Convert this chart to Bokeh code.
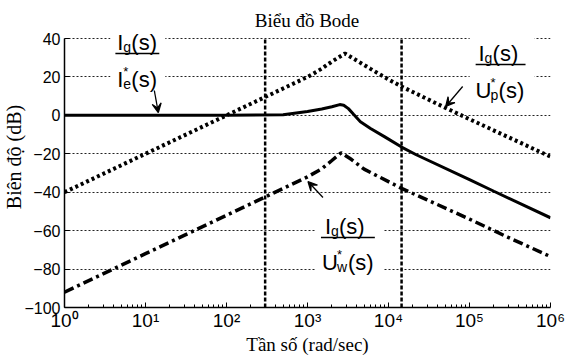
from bokeh.plotting import figure
from bokeh.models import Range1d, FixedTicker, Label, Arrow, VeeHead, BoxAnnotation
from bokeh.embed import file_html
from bokeh.resources import INLINE

# ---------------- data ----------------
freq_Ie = [1, 10, 100, 500, 1000, 1500, 2000, 2500, 2800, 3200, 3700, 4500, 6000, 9000,
           14500, 22000, 100000, 200000, 1000000]
mag_Ie = [0, 0, 0, 0.3, 2.0, 3.3, 4.5, 5.6, 5.3, 3.5, 0.6, -3.3, -6.8, -11.2,
          -16.5, -20.5, -33.5, -39.5, -53.3]

freq_Up = [1, 10, 100, 1000, 1500, 2000, 2900, 4000, 6000, 10000, 14500,
           50000, 100000, 1000000]
mag_Up = [-40, -20, 0, 20, 24.3, 28, 32.2, 28.7, 24.2, 18.7, 15,
          4, -2, -21.5]

freq_Uw = [1, 10, 100, 300, 1000, 1500, 2000, 2600, 3500, 5000, 10000,
           14500, 30000, 100000, 300000, 1000000]
mag_Uw = [-92, -72, -52, -42.5, -32, -27.8, -23.5, -19.5, -23, -28, -34.5,
          -38, -44, -54, -63.5, -73.5]

vline_freqs = [300, 14500]

xtick_values = [1, 10, 100, 1000, 10000, 100000, 1000000]
xtick_labels = ["10\u2070", "10\u00b9", "10\u00b2", "10\u00b3", "10\u2074", "10\u2075", "10\u2076"]
ytick_values = [-100, -80, -60, -40, -20, 0, 20, 40]
y_min, y_max = -100, 40

title_text = "Biểu đồ Bode"
xlabel_text = "Tần số (rad/sec)"
ylabel_text = "Biên độ (dB)"

# ---------------- figure ----------------
PX_DB = 269.0 / 140.0          # pixels per dB
HEAD = 32                      # free room above the 40 dB line (title + labels)
p = figure(frame_width=486, frame_height=269 + HEAD, x_axis_type="log",
           x_range=Range1d(1, 1e6), y_range=Range1d(y_min, y_max + HEAD / PX_DB),
           output_backend="svg", toolbar_location=None, title=None,
           min_border_left=58, min_border_right=15,
           min_border_top=6, min_border_bottom=46)
p.outline_line_color = None
p.background_fill_color = "white"

# axes
p.xaxis.ticker = FixedTicker(ticks=xtick_values,
                             minor_ticks=[m * d for d in xtick_values[:-1] for m in range(2, 10)])
p.xaxis.major_label_overrides = {v: l for v, l in zip(xtick_values, xtick_labels)}
p.yaxis.ticker = FixedTicker(ticks=ytick_values)
p.yaxis.bounds = (y_min, y_max)
for ax in (p.xaxis[0], p.yaxis[0]):
    ax.axis_line_color = "black"
    ax.axis_line_width = 1.5
    ax.major_tick_out = 0
    ax.major_tick_in = 5
    ax.major_tick_line_color = "black"
    ax.minor_tick_out = 0
    ax.minor_tick_in = 3
    ax.minor_tick_line_color = "black"
    ax.major_label_text_font = "Liberation Sans"
    ax.major_label_text_color = "black"
    ax.axis_label_text_font = "Liberation Serif"
    ax.axis_label_text_font_style = "normal"
    ax.axis_label_text_color = "black"
p.yaxis.minor_tick_line_color = None
p.xaxis.major_label_text_font_size = "19px"
p.yaxis.major_label_text_font_size = "16px"
p.xaxis.axis_label_text_font_size = "19px"
p.yaxis.axis_label_text_font_size = "20px"
p.xaxis.major_label_standoff = 2
p.yaxis.major_label_standoff = 4
p.xaxis.axis_label = xlabel_text
p.yaxis.axis_label = ylabel_text
p.xaxis.axis_label_standoff = 0
p.yaxis.axis_label_standoff = -4

p.xgrid.grid_line_color = None
p.ygrid.grid_line_color = "#222222"
p.ygrid.grid_line_dash = "2 2"
p.ygrid.grid_line_width = 1

# vertical reference lines (from -100 dB up to 40 dB)
p.segment(x0=vline_freqs, y0=[y_min] * len(vline_freqs),
          x1=vline_freqs, y1=[y_max] * len(vline_freqs),
          line_color="black", line_width=2.5, line_dash="4 2")

# curves
p.line(freq_Ie, mag_Ie, line_color="black", line_width=3)
p.line(freq_Up, mag_Up, line_color="black", line_width=4, line_dash="3 3")
p.line(freq_Uw, mag_Uw, line_color="black", line_width=3.5, line_dash="10 4 3 4")

# ---------------- annotations (positions read in reference pixels) ----------------
X0, PX_DEC = 66.0, 81.17
Y0 = 39.0


def dx(px):
    return 10 ** ((px - X0) / PX_DEC)


def dy(py):
    return 40 - (py - Y0) / PX_DB


# title, drawn inside the free room above the 40 dB line
p.add_layout(Label(x=dx(309), y=dy(21), text=title_text, text_font="Liberation Serif",
                   text_font_size="19px", text_color="black",
                   text_align="center", text_baseline="middle"))

for (l, r, t, b) in [(112, 167, 22, 90), (472, 537, 30, 95), (318, 386, 203, 276)]:
    p.add_layout(BoxAnnotation(left=dx(l), right=dx(r), top=dy(t), bottom=dy(b),
                               fill_color="white", fill_alpha=1, line_color=None))


def piece(cx, ly, text, ox, oy, size):
    p.add_layout(Label(x=dx(cx), y=dy(ly), x_offset=ox, y_offset=-oy, text=text,
                       text_font="Liberation Sans", text_font_size=f"{size}px",
                       text_color="black", text_baseline="alphabetic", text_align="left"))


def fraction(cx, ly, half_w, num, den):
    p.add_layout(Arrow(x_start=dx(cx - half_w), y_start=dy(ly),
                       x_end=dx(cx + half_w), y_end=dy(ly), start=None, end=None,
                       line_color="black", line_width=1.5))
    for (t, ox, oy, s) in num + den:
        piece(cx, ly, t, ox, oy, s)


fraction(139, 54, 22,
         [("I", -20, -11, 22), ("g", -14, -7, 14), ("(s)", -6, -11, 22)],
         [("I", -20, 26, 22), ("*", -14, 18, 13), ("e", -14, 30, 14), ("(s)", -6, 26, 22)])
fraction(503, 65, 25,
         [("I", -22, -11, 22), ("g", -16, -7, 14), ("(s)", -8, -11, 22)],
         [("U", -25, 26, 22), ("*", -10, 18, 13), ("p", -10, 30, 14), ("(s)", -2, 26, 22)])
fraction(350, 238, 27,
         [("I", -23, -11, 22), ("g", -17, -7, 14), ("(s)", -9, -11, 22)],
         [("U", -26, 25, 22), ("*", -11, 17, 13), ("w", -11, 29, 14), ("(s)", 0, 25, 22)])

for (x1, y1, x2, y2) in [(156, 91, 160, 113), (465, 87, 448, 107), (325, 198, 310, 182)]:
    p.add_layout(Arrow(x_start=dx(x1), y_start=dy(y1), x_end=dx(x2), y_end=dy(y2),
                       line_color="black", line_width=1.3,
                       end=VeeHead(size=9, line_color="black", line_width=1.3,
                                   fill_color="black")))

open("out.html", "w").write(file_html(p, INLINE))
